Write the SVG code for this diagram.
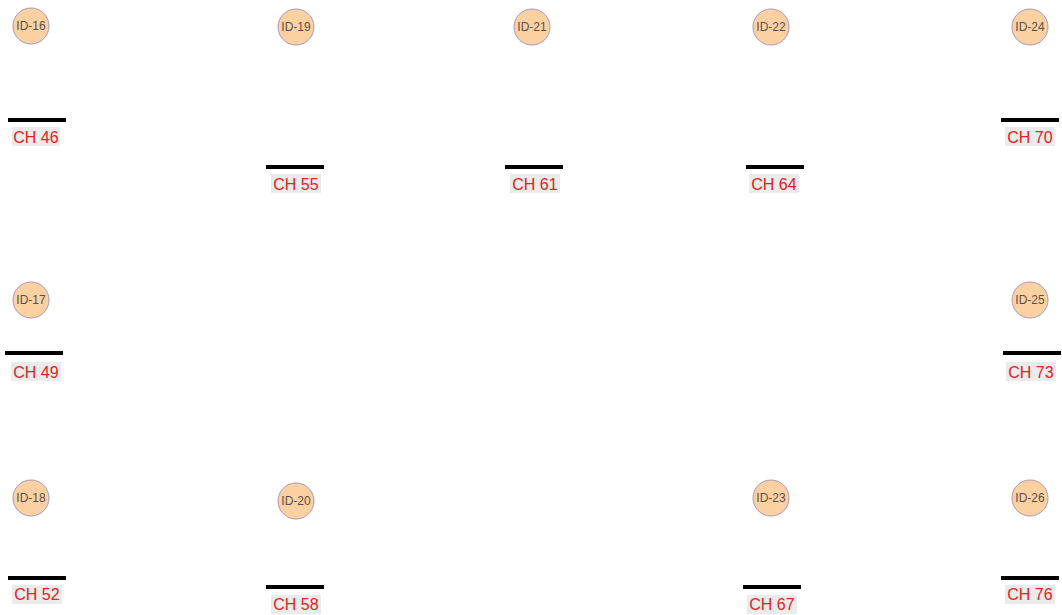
<svg xmlns="http://www.w3.org/2000/svg" width="1062" height="615" viewBox="0 0 1062 615">
<style>
.c{fill:#FCD1A2;stroke:#A898C0;stroke-width:1}
.ct{font-family:"Liberation Sans",Arial,sans-serif;font-size:12px;fill:#5a5048;text-anchor:middle;dominant-baseline:central}
.bar{stroke:#000;stroke-width:4}
.bg{fill:#EBEBEB}
.lt{font-family:"Liberation Sans",Arial,sans-serif;font-size:16px;fill:#E52020;text-anchor:middle;dominant-baseline:central}
</style>
<rect width="1062" height="615" fill="#fff"/>
<g id="connectors"></g>
<g id="n16"><circle class="c" cx="31" cy="26" r="18"/><text class="ct" x="31" y="26">ID-16</text></g>
<g id="n19"><circle class="c" cx="296" cy="27" r="18"/><text class="ct" x="296" y="27">ID-19</text></g>
<g id="n21"><circle class="c" cx="532" cy="27" r="18"/><text class="ct" x="532" y="27">ID-21</text></g>
<g id="n22"><circle class="c" cx="771" cy="27" r="18"/><text class="ct" x="771" y="27">ID-22</text></g>
<g id="n24"><circle class="c" cx="1030" cy="27" r="18"/><text class="ct" x="1030" y="27">ID-24</text></g>
<g id="n17"><circle class="c" cx="31" cy="300" r="18"/><text class="ct" x="31" y="300">ID-17</text></g>
<g id="n25"><circle class="c" cx="1030" cy="300" r="18"/><text class="ct" x="1030" y="300">ID-25</text></g>
<g id="n18"><circle class="c" cx="31" cy="498" r="18"/><text class="ct" x="31" y="498">ID-18</text></g>
<g id="n20"><circle class="c" cx="296" cy="501" r="18"/><text class="ct" x="296" y="501">ID-20</text></g>
<g id="n23"><circle class="c" cx="771" cy="498" r="18"/><text class="ct" x="771" y="498">ID-23</text></g>
<g id="n26"><circle class="c" cx="1030" cy="498" r="18"/><text class="ct" x="1030" y="498">ID-26</text></g>

<g id="ch46"><line class="bar" x1="8" y1="120" x2="66" y2="120"/><rect class="bg" x="12" y="127" width="48" height="19"/><text class="lt" x="36" y="137">CH 46</text></g>
<g id="ch55"><line class="bar" x1="266" y1="167" x2="324" y2="167"/><rect class="bg" x="271" y="174" width="50" height="19"/><text class="lt" x="296" y="184">CH 55</text></g>
<g id="ch61"><line class="bar" x1="505" y1="167" x2="563" y2="167"/><rect class="bg" x="510" y="174" width="50" height="19"/><text class="lt" x="535" y="184">CH 61</text></g>
<g id="ch64"><line class="bar" x1="746" y1="167" x2="804" y2="167"/><rect class="bg" x="749" y="174" width="50" height="19"/><text class="lt" x="774" y="184">CH 64</text></g>
<g id="ch70"><line class="bar" x1="1001" y1="120" x2="1059" y2="120"/><rect class="bg" x="1005" y="127" width="50" height="19"/><text class="lt" x="1030" y="137">CH 70</text></g>
<g id="ch49"><line class="bar" x1="5" y1="353" x2="63" y2="353"/><rect class="bg" x="11" y="362" width="50" height="19"/><text class="lt" x="36" y="372">CH 49</text></g>
<g id="ch73"><line class="bar" x1="1003" y1="353" x2="1061" y2="353"/><rect class="bg" x="1006" y="362" width="50" height="19"/><text class="lt" x="1031" y="372">CH 73</text></g>
<g id="ch52"><line class="bar" x1="8" y1="578" x2="66" y2="578"/><rect class="bg" x="12" y="585" width="50" height="19"/><text class="lt" x="37" y="594">CH 52</text></g>
<g id="ch58"><line class="bar" x1="266" y1="587" x2="324" y2="587"/><rect class="bg" x="271" y="595" width="50" height="19"/><text class="lt" x="296" y="604">CH 58</text></g>
<g id="ch67"><line class="bar" x1="743" y1="587" x2="801" y2="587"/><rect class="bg" x="747" y="595" width="50" height="19"/><text class="lt" x="772" y="604">CH 67</text></g>
<g id="ch76"><line class="bar" x1="1001" y1="578" x2="1059" y2="578"/><rect class="bg" x="1005" y="585" width="50" height="19"/><text class="lt" x="1030" y="594">CH 76</text></g>
</svg>
